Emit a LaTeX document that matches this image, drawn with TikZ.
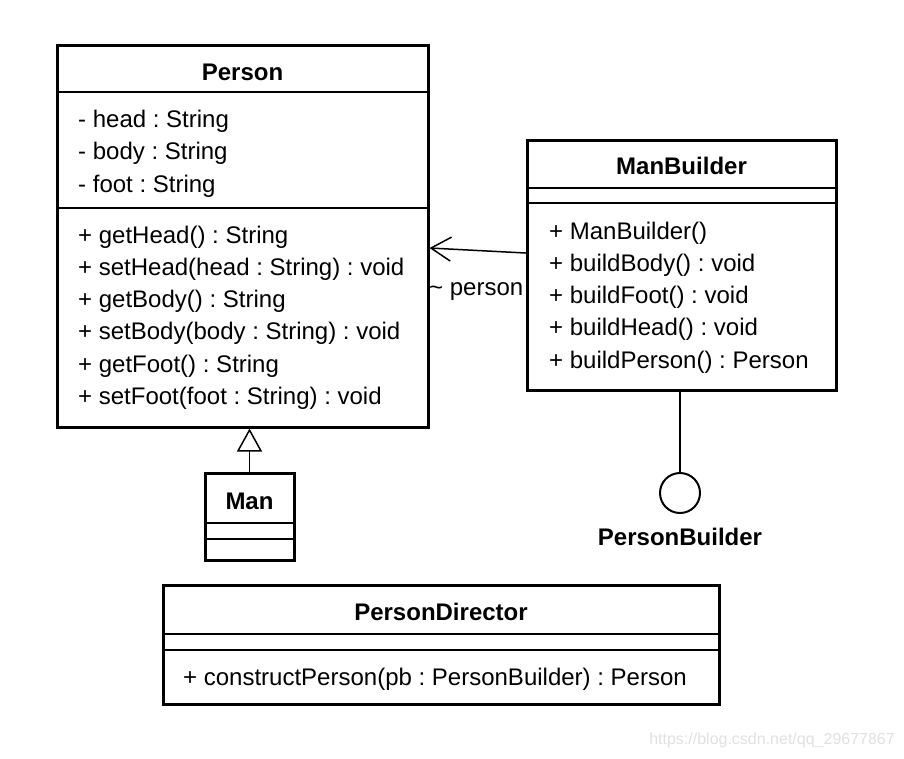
\documentclass[tikz,border=0pt]{standalone}
\usepackage{fontspec}
\setmainfont{Liberation Sans}
\usetikzlibrary{arrows.meta,calc}
\frenchspacing
\tikzset{
  uml-box/.style={
    draw=black,
    line width=3pt,
    fill=white,
    inner sep=0pt
  },
  uml-rule/.style={line width=1.8pt},
  uml-title/.style={font=\fontsize{24}{28}\selectfont\bfseries, inner sep=0pt},
  uml-member/.style={font=\fontsize{24}{28}\selectfont, anchor=west, inner sep=0pt},
  link/.style={line width=1.5pt, line cap=round, line join=round},
  lollipop/.style={circle, draw=black, line width=2pt, minimum size=40pt, inner sep=0pt},
  watermark/.style={font=\fontsize{16}{19}\selectfont, text=black!12, inner sep=0pt}
}

\begin{document}
\begin{tikzpicture}[x=1pt, y=-1pt]
  \useasboundingbox (0,0) rectangle (904,758);

  % --- Person ---
  \node[uml-box, minimum width=371pt, minimum height=382pt] (person) at (242.5,236) {};
  \foreach \y in {92,208}
    \draw[uml-rule] (person.west |- 0,\y) -- (person.east |- 0,\y);
  \node[uml-title] (person-title) at (person.north |- 0,72) {Person};
  \foreach \txt [count=\i] in {{- head : String},{- body : String},{- foot : String}}
    \node[uml-member] (person-attr\i) at (78,{121+(\i-1)*32.5}) {\txt};
  \foreach \txt [count=\i] in {{+ getHead() : String},{+ setHead(head : String) : void},
      {+ getBody() : String},{+ setBody(body : String) : void},
      {+ getFoot() : String},{+ setFoot(foot : String) : void}}
    \node[uml-member] (person-op\i) at (78,{237+(\i-1)*32.2}) {\txt};

  % --- ManBuilder ---
  \node[uml-box, minimum width=309pt, minimum height=250pt] (builder) at (681.5,265) {};
  \foreach \y in {188,203}
    \draw[uml-rule] (builder.west |- 0,\y) -- (builder.east |- 0,\y);
  \node[uml-title] (builder-title) at (builder.north |- 0,166) {ManBuilder};
  \foreach \txt [count=\i] in {{+ ManBuilder()},{+ buildBody() : void},{+ buildFoot() : void},
      {+ buildHead() : void},{+ buildPerson() : Person}}
    \node[uml-member] (builder-op\i) at (549,{233+(\i-1)*32.25}) {\txt};

  % --- Man ---
  \node[uml-box, minimum width=89pt, minimum height=87pt] (man) at (249.5,516.5) {};
  \foreach \y in {523,539}
    \draw[uml-rule] (man.west |- 0,\y) -- (man.east |- 0,\y);
  \node[uml-title] (man-title) at (man.north |- 0,501) {Man};

  % --- PersonDirector ---
  \node[uml-box, minimum width=556pt, minimum height=119pt] (director) at (441,644.5) {};
  \foreach \y in {634,650}
    \draw[uml-rule] (director.west |- 0,\y) -- (director.east |- 0,\y);
  \node[uml-title] (director-title) at (director.north |- 0,612) {PersonDirector};
  \node[uml-member] (director-op1) at (183,679) {+ constructPerson(pb : PersonBuilder) : Person};

  % --- Interface PersonBuilder ---
  \node[lollipop] (iface) at (680,493) {};
  \node[uml-title] (iface-label) at (680,537) {PersonBuilder};
  \draw[link] (iface |- builder.south) -- (iface.north);

  % --- Relations ---
  \draw[link, -{Triangle[open, length=23pt, width=25pt, line width=1.5pt]}]
    (man.north) -- (man.north |- person.south);
  \draw[link, -{Straight Barb[length=20pt, width=24pt, line width=1.5pt]}]
    ([yshift=12pt]builder.west) -- ([yshift=-12pt]person.east);
  \node[uml-member, anchor=east] (role) at ([xshift=-2pt, yshift=-27pt]builder.west) {\textasciitilde{} person};

  \node[watermark, anchor=east] (credit) at (895,740) {https://blog.csdn.net/qq\_29677867};
\end{tikzpicture}
\end{document}
